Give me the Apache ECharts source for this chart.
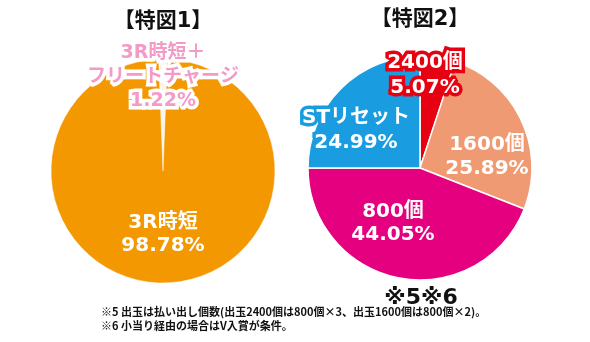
<!DOCTYPE html>
<html><head><meta charset="utf-8">
<script src="https://cdn.jsdelivr.net/npm/echarts@6/dist/echarts.min.js"></script>
<style>html,body{margin:0;padding:0;background:#fff}#c{width:590px;height:342px}</style>
</head><body><div id="c"></div>
<script>
const fig1Names = ['3R時短＋\nフリートチャージ', '3R時短'];
const fig1Values = [1.22, 98.78];
const fig2Names = ['2400個', '1600個', '800個', 'STリセット'];
const fig2Values = [5.07, 25.89, 44.05, 24.99];
const titles = ['【特図1】', '【特図2】'];
const noteMark = '※5※6';
const footnotes = ['※5 出玉は払い出し個数(出玉2400個は800個×3、出玉1600個は800個×2)。', '※6 小当り経由の場合はV入賞が条件。'];

const FONT = '"DejaVu Sans", "Noto Sans CJK JP", sans-serif';
const CJK = '"Noto Sans CJK JP", sans-serif';
const fig1Colors = ['#fdf3ea', '#f39800'];
const fig2Colors = ['#e60012', '#ef9a72', '#e4007f', '#1a9de0'];
// label placement / styling (outline: null => plain series label)
const fig1Label = [
  {fill:'#f49ac6', outline:'#fff', pos:[163, 77], size:19, lh:24},
  {fill:'#fff', outline:null, pos:[163, 234], size:20, lh:23}
];
const fig2Label = [
  {fill:'#fff', outline:'#e60012', pos:[425, 75], size:20, lh:25},
  {fill:'#fff', outline:null, pos:[487, 157], size:20, lh:24},
  {fill:'#fff', outline:null, pos:[393, 223], size:20, lh:23},
  {fill:'#fff', outline:'#1a9de0', pos:[356, 130], size:20, lh:25}
];
const fmt = (name, v) => name + '\n' + v.toFixed(2) + '%';

function mkData(names, values, colors, labels){
  return names.map((n,i)=>({
    name:n, value:values[i],
    itemStyle:{color:colors[i]},
    label:{show: !labels[i].outline, color:labels[i].fill, fontSize:labels[i].size, lineHeight:labels[i].lh}
  }));
}
function outlined(names, values, labels){
  const out = [];
  names.forEach((n,i)=>{
    const L = labels[i];
    if(!L.outline) return;
    const base = {text:fmt(n, values[i]), font:'bold '+L.size+'px '+FONT, lineHeight:L.lh, align:'center', verticalAlign:'middle'};
    out.push({type:'text', x:L.pos[0], y:L.pos[1], z:100, silent:true,
      style:Object.assign({}, base, {fill:L.outline, stroke:L.outline, lineWidth:7, lineJoin:'round'})});
    out.push({type:'text', x:L.pos[0], y:L.pos[1], z:101, silent:true,
      style:Object.assign({}, base, {fill:L.fill})});
  });
  return out;
}

const labelCommon = {
  show:true, position:'inside', formatter:(p)=>fmt(p.name, p.value),
  fontFamily:FONT, fontWeight:'bold', fontSize:20, lineHeight:23, align:'center'
};
const layoutFor = (labels)=>(p)=>({x:labels[p.dataIndex].pos[0], y:labels[p.dataIndex].pos[1], align:'center', verticalAlign:'middle', hideOverlap:false});

const chart = echarts.init(document.getElementById('c'), null, {renderer:'canvas'});
chart.setOption({
  animation:false,
  series:[
    {type:'pie', center:[163,171], radius:[0,112], startAngle:92.2, clockwise:true,
     silent:true, avoidLabelOverlap:false, labelLine:{show:false},
     itemStyle:{borderColor:'#fff', borderWidth:0.5},
     label:labelCommon, labelLayout:layoutFor(fig1Label),
     data:mkData(fig1Names, fig1Values, fig1Colors, fig1Label)},
    {type:'pie', center:[420,168], radius:[0,112], startAngle:90, clockwise:true,
     silent:true, avoidLabelOverlap:false, labelLine:{show:false},
     itemStyle:{borderColor:'#fff', borderWidth:1.5},
     label:labelCommon, labelLayout:layoutFor(fig2Label),
     data:mkData(fig2Names, fig2Values, fig2Colors, fig2Label)}
  ],
  graphic:[
    {type:'text', x:163, y:22, style:{text:titles[0], fill:'#111', font:'bold 21px '+FONT, align:'center', verticalAlign:'middle'}},
    {type:'text', x:420, y:20, style:{text:titles[1], fill:'#111', font:'bold 21px '+FONT, align:'center', verticalAlign:'middle'}},
    {type:'text', x:421, y:298, style:{text:noteMark, fill:'#111', font:'bold 22px '+FONT, align:'center', verticalAlign:'middle'}},
    {type:'text', x:101, y:312, style:{text:footnotes[0], fill:'#111', font:'bold 11px '+CJK, verticalAlign:'middle'}},
    {type:'text', x:101, y:326, style:{text:footnotes[1], fill:'#111', font:'bold 11px '+CJK, verticalAlign:'middle'}}
  ].concat(outlined(fig1Names, fig1Values, fig1Label), outlined(fig2Names, fig2Values, fig2Label))
});
</script></body></html>
